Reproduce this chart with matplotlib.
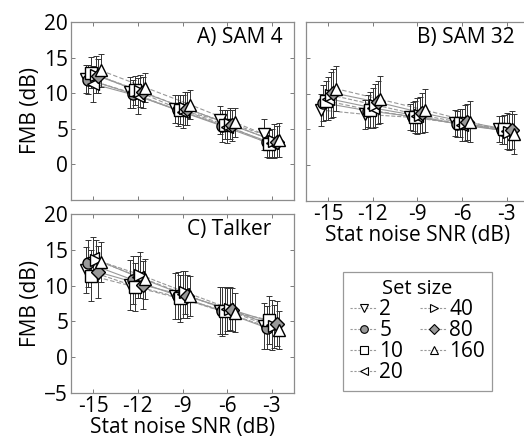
import matplotlib
matplotlib.use('Agg')
import matplotlib.pyplot as plt
import numpy as np

plt.rcParams['font.family'] = ['Open Sans', 'DejaVu Sans']

snr = [-15, -12, -9, -6, -3]
set_sizes = ['2', '5', '10', '20', '40', '80', '160']
xtick_labels = ['-15', '-12', '-9', '-6', '-3']

# means, one row per set size (2,5,10,20,40,80,160)
sam4_mean = [[12.0, 10.1, 7.8, 6.2, 4.2],
             [11.9, 9.9, 7.6, 5.4, 3.1],
             [12.9, 10.4, 7.7, 5.6, 2.9],
             [11.3, 9.6, 7.4, 5.3, 3.0],
             [12.6, 10.3, 7.9, 5.7, 3.3],
             [12.4, 10.1, 7.8, 5.5, 3.2],
             [13.2, 10.8, 8.4, 5.9, 3.4]]
sam4_err = [[2.0, 2.2, 2.0, 2.0, 2.2],
            [2.0, 2.0, 2.2, 2.2, 2.0],
            [2.2, 2.0, 2.0, 2.0, 2.0],
            [2.5, 2.5, 2.3, 2.3, 2.0],
            [2.6, 2.3, 2.3, 2.2, 2.4],
            [2.4, 2.2, 2.3, 2.2, 2.2],
            [2.3, 2.0, 2.0, 2.0, 2.4]]

sam32_mean = [[7.7, 7.1, 6.7, 5.9, 5.1],
              [8.7, 7.6, 6.8, 5.8, 4.9],
              [9.0, 7.7, 6.7, 5.9, 5.0],
              [9.3, 8.0, 6.9, 5.6, 4.8],
              [9.8, 8.4, 7.0, 5.9, 4.6],
              [10.1, 8.8, 7.3, 6.0, 4.9],
              [10.7, 9.2, 7.7, 6.1, 4.4]]
sam32_err = [[2.2, 2.0, 1.8, 1.8, 1.8],
             [2.5, 2.2, 2.0, 1.8, 2.0],
             [2.7, 2.5, 2.2, 2.0, 2.0],
             [3.0, 2.8, 2.5, 2.2, 2.5],
             [3.2, 3.0, 2.5, 2.5, 2.5],
             [3.4, 3.0, 2.8, 2.5, 2.7],
             [3.2, 3.3, 3.0, 2.8, 2.8]]

talker_mean = [[12.2, 10.1, 8.5, 6.5, 4.4],
               [13.1, 10.8, 8.6, 6.4, 4.1],
               [11.4, 9.8, 8.2, 6.5, 5.2],
               [13.8, 11.2, 8.8, 6.7, 4.5],
               [13.6, 11.5, 9.1, 6.8, 4.3],
               [11.9, 10.1, 8.5, 6.6, 4.7],
               [13.3, 10.9, 8.5, 6.2, 3.8]]
talker_err = [[3.2, 3.5, 3.2, 3.3, 3.2],
              [3.3, 3.4, 3.3, 3.4, 3.0],
              [3.6, 3.4, 3.3, 3.3, 3.3],
              [3.0, 3.0, 3.3, 3.0, 3.5],
              [2.7, 3.2, 3.0, 3.0, 3.0],
              [3.6, 3.3, 3.0, 3.0, 3.2],
              [2.8, 2.8, 2.8, 2.7, 2.6]]

markers = ['v', 'o', 's', '<', '>', 'D', '^']
fills = ['white', '0.6', 'white', 'white', 'white', '0.6', 'white']
msizes = [9, 8, 8, 9, 9, 7, 9]
lstyles = ['--', '-', (0, (4, 2)), '-', '--', '-', (0, (4, 2))]
offsets = np.linspace(-0.5, 0.5, 7)

W, H = 524, 442
fig = plt.figure(figsize=(W / 100, H / 100), dpi=100)
axA = fig.add_axes([71 / W, 1 - 200 / H, 223 / W, 178 / H])
axB = fig.add_axes([306 / W, 1 - 201 / H, 223 / W, 179 / H])
axC = fig.add_axes([71 / W, 1 - 393 / H, 223 / W, 179 / H])


def draw(ax, means, errs):
    for i in range(7):
        x = np.array(snr) + offsets[i]
        ax.plot(x, means[i], color='0.6', lw=0.8, ls=lstyles[i], zorder=1)
        ax.errorbar(x, means[i], yerr=errs[i], fmt='none', ecolor='0.2',
                    elinewidth=0.7, capsize=2, capthick=0.7, zorder=2)
        ax.plot(x, means[i], ls='none', marker=markers[i], ms=msizes[i],
                mfc=fills[i], mec='black', mew=1.0, zorder=3)
    ax.set_xlim(-16.5, -1.5)
    ax.set_ylim(-5, 20)
    ax.set_xticks(snr)
    ax.set_yticks([-5, 0, 5, 10, 15, 20])
    ax.tick_params(direction='in', top=True, right=True, length=3,
                   width=0.6, color='0.4', labelsize=15, pad=2)
    for s in ax.spines.values():
        s.set_color('0.55')
        s.set_linewidth(0.9)


draw(axA, sam4_mean, sam4_err)
draw(axB, sam32_mean, sam32_err)
draw(axC, talker_mean, talker_err)

axA.set_xticklabels([])
axA.set_yticklabels(['', '0', '5', '10', '15', '20'])
axA.set_ylabel('FMB (dB)', fontsize=15, labelpad=2)

axB.set_yticklabels([])
axB.set_xticklabels(xtick_labels)
axB.set_xlabel('Stat noise SNR (dB)', fontsize=15, labelpad=0)

axC.set_xticklabels(xtick_labels)
axC.set_ylabel('FMB (dB)', fontsize=15, labelpad=2)
axC.set_xlabel('Stat noise SNR (dB)', fontsize=15, labelpad=0)

axA.text(0.95, 0.97, 'A) SAM 4', transform=axA.transAxes, ha='right', va='top', fontsize=15)
axB.text(0.935, 0.97, 'B) SAM 32', transform=axB.transAxes, ha='right', va='top', fontsize=15)
axC.text(0.9, 0.97, 'C) Talker', transform=axC.transAxes, ha='right', va='top', fontsize=15)

# legend handles
leg_handles = []
for i in range(7):
    h, = axC.plot([], [], color='0.6', lw=0.8, ls=(0, (2, 1.5)), marker=markers[i],
                  ms=5.5, mfc=fills[i], mec='black', mew=0.8)
    leg_handles.append(h)
leg = fig.legend(leg_handles, set_sizes, ncol=2, title='Set size',
                 loc='upper left', bbox_to_anchor=(343 / W, 1 - 272 / H),
                 fontsize=15, title_fontsize=14.5, frameon=True, fancybox=False,
                 handlelength=1.3, handletextpad=0.1, columnspacing=0.8,
                 labelspacing=0.0, borderpad=0.35, borderaxespad=0)
leg.get_frame().set_edgecolor('0.5')
leg.get_frame().set_linewidth(0.9)

fig.savefig('out.png', dpi=100)
